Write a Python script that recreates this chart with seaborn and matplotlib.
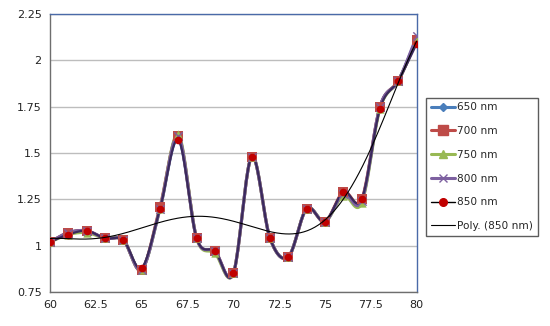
import numpy as np
import pandas as pd
import matplotlib
matplotlib.use("Agg")
import matplotlib.pyplot as plt
import seaborn as sns

x = list(range(60, 81))
nm650 = [1.02, 1.07, 1.08, 1.04, 1.03, 0.87, 1.20, 1.58, 1.04, 0.97, 0.85, 1.48, 1.04, 0.94, 1.20, 1.13, 1.28, 1.24, 1.75, 1.89, 2.12]
nm700 = [1.02, 1.07, 1.08, 1.04, 1.03, 0.87, 1.21, 1.59, 1.04, 0.97, 0.85, 1.48, 1.04, 0.94, 1.20, 1.13, 1.29, 1.25, 1.75, 1.89, 2.11]
nm750 = [1.02, 1.06, 1.07, 1.04, 1.03, 0.87, 1.20, 1.60, 1.04, 0.96, 0.85, 1.48, 1.04, 0.94, 1.20, 1.13, 1.27, 1.23, 1.74, 1.89, 2.11]
nm800 = [1.02, 1.07, 1.08, 1.04, 1.03, 0.87, 1.20, 1.59, 1.04, 0.97, 0.85, 1.48, 1.04, 0.94, 1.20, 1.13, 1.28, 1.24, 1.75, 1.89, 2.13]
nm850 = [1.02, 1.06, 1.08, 1.04, 1.03, 0.88, 1.20, 1.57, 1.04, 0.97, 0.85, 1.48, 1.04, 0.94, 1.20, 1.13, 1.29, 1.25, 1.74, 1.89, 2.09]
series_names = ["650 nm", "700 nm", "750 nm", "800 nm", "850 nm"]
trend_label = "Poly. (850 nm)"
y_ticks = [0.75, 1, 1.25, 1.5, 1.75, 2, 2.25]
y_tick_labels = ["0.75", "1", "1.25", "1.5", "1.75", "2", "2.25"]
x_ticks = [60, 62.5, 65, 67.5, 70, 72.5, 75, 77.5, 80]
x_tick_labels = ["60", "62.5", "65", "67.5", "70", "72.5", "75", "77.5", "80"]

sns.set_theme(style="white")
plt.rcParams["font.family"] = ["DejaVu Sans"]

def smooth(xs, ys, n=20):
    xs = np.asarray(xs, float); ys = np.asarray(ys, float)
    px = np.concatenate([[2*xs[0]-xs[1]], xs, [2*xs[-1]-xs[-2]]])
    py = np.concatenate([[2*ys[0]-ys[1]], ys, [2*ys[-1]-ys[-2]]])
    ox, oy = [], []
    for i in range(1, len(px)-2):
        t = np.linspace(0, 1, n, endpoint=False)
        for arr, out in ((px, ox), (py, oy)):
            p0, p1, p2, p3 = arr[i-1], arr[i], arr[i+1], arr[i+2]
            out.extend(0.5*((2*p1) + (-p0+p2)*t + (2*p0-5*p1+4*p2-p3)*t**2 + (-p0+3*p1-3*p2+p3)*t**3))
    ox.append(xs[-1]); oy.append(ys[-1])
    return np.array(ox), np.array(oy)

fig, ax = plt.subplots(figsize=(5.5, 3.26), dpi=100)
fig.subplots_adjust(left=50/550, right=416.7/550, top=1-14/326, bottom=1-292/326)

styles = [
    ("#4A7EBB", "D", "#4A7EBB", 4.5, 2.2),
    ("#BE4B48", "s", "#BE4B48", 7.5, 2.2),
    ("#98B954", "^", "#98B954", 6, 2.2),
    ("#7D60A0", "x", "#7D60A0", 6, 2.2),
    ("#1a1a1a", "o", "#C00000", 5.5, 1.0),
]
data = [nm650, nm700, nm750, nm800, nm850]
handles = []
for name, ys, (lc, mk, mc, ms, lw) in zip(series_names, data, styles):
    sx, sy = smooth(x, ys)
    sns.lineplot(x=sx, y=sy, ax=ax, color=lc if name != "850 nm" else "#3b2a5c", lw=lw if name != "850 nm" else 1.6, sort=False, estimator=None, legend=False, zorder=3)
    sns.scatterplot(x=x, y=ys, ax=ax, marker=mk, color=mc, s=ms**2, edgecolor=mc if mk != "x" else None, linewidth=1.0 if mk == "x" else 0, legend=False, zorder=4)
    h, = ax.plot([], [], color=lc if name != "850 nm" else "black", lw=lw, marker=mk, markersize=ms, markerfacecolor=mc, markeredgecolor=mc)
    handles.append(h)

coef = np.polyfit(np.array(x, float) - 70, np.array(nm850), 6)
tx = np.linspace(60, 80, 300)
ty = np.polyval(coef, tx - 70)
sns.lineplot(x=tx, y=ty, ax=ax, color="black", lw=0.8, legend=False, zorder=5)
h, = ax.plot([], [], color="black", lw=0.8)
handles.append(h)

ax.set_xlim(60, 80)
ax.set_ylim(0.75, 2.25)
ax.set_xticks(x_ticks)
ax.set_xticklabels(x_tick_labels)
ax.set_yticks(y_ticks)
ax.set_yticklabels(y_tick_labels)
ax.tick_params(length=0, labelsize=8, colors="#222222", pad=6)
ax.yaxis.grid(True, color="#BDBDBD", lw=1)
ax.xaxis.grid(False)
ax.set_axisbelow(True)
for s in ["left", "bottom"]:
    ax.spines[s].set_color("#6e6e6e"); ax.spines[s].set_linewidth(1)
for s in ["top", "right"]:
    ax.spines[s].set_color("#4a6aa8"); ax.spines[s].set_linewidth(1)

leg = ax.legend(handles, series_names + [trend_label], loc="upper left",
                bbox_to_anchor=(426/550, 1-97.7/326), bbox_transform=fig.transFigure,
                fontsize=7.6, frameon=True, fancybox=False, edgecolor="#333333",
                handlelength=2.3, handletextpad=0.2, labelspacing=1.3, borderpad=0.45,
                borderaxespad=0)
leg.get_frame().set_linewidth(1)

fig.savefig("out.png", dpi=100)
